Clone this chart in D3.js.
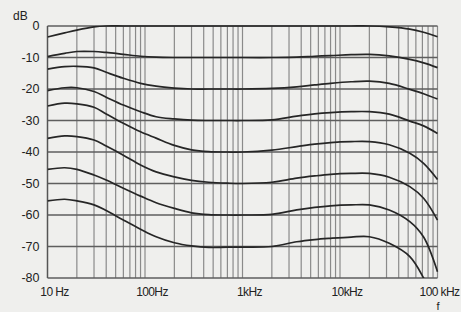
<!DOCTYPE html>
<html>
<head>
<meta charset="utf-8">
<script src="https://cdn.jsdelivr.net/npm/d3@7"></script>
<style>
  html, body { margin: 0; padding: 0; background: #efefed; }
  svg { display: block; }
  text { font-family: "Liberation Sans", Arial, sans-serif; fill: #222; }
</style>
</head>
<body>
<svg id="chart" width="461" height="312"></svg>
<script>
// ---- data ----
const freqs = [10, 15, 20, 30, 40, 60, 90, 130, 200, 300, 450, 700, 1000, 2000, 3600, 5500, 8000, 13000, 20000, 32000, 52000, 72000, 100000];
const curve0  = [-3.5, -2.2, -1.3, -0.3, 0, 0, 0, 0, 0, 0, 0, 0, 0, 0, 0, 0, 0, 0, 0, -0.3, -1.0, -2.0, -3.4];
const curve10 = [-9.7, -8.7, -8.1, -8.1, -8.4, -9.0, -9.6, -9.9, -10, -10, -10, -10, -10, -10, -9.9, -9.6, -9.4, -9.1, -9.0, -9.5, -10.6, -11.7, -13.2];
const curve20 = [-13.7, -12.9, -12.8, -13.3, -14.7, -16.6, -18.2, -19.1, -19.7, -20, -20, -20, -20, -19.8, -19.3, -18.7, -18.2, -17.7, -17.5, -18.2, -20.1, -21.5, -23.2];
const curve30 = [-20.5, -19.6, -19.6, -20.8, -22.6, -25.1, -27.2, -28.8, -29.5, -29.9, -30, -30, -30, -29.8, -28.6, -27.9, -27.5, -27.2, -27.2, -28.0, -30.2, -31.7, -34.1];
const curve40 = [-25.4, -24.5, -24.7, -25.8, -27.9, -30.9, -33.6, -35.6, -37.9, -39.3, -39.9, -40, -40, -39.4, -38.3, -37.5, -37.0, -36.7, -36.7, -37.7, -40.4, -43.6, -48.7];
const curve50 = [-35.7, -34.9, -35.1, -36.2, -38.1, -41.0, -44.1, -46.3, -47.9, -49.0, -49.6, -49.9, -50, -49.6, -48.3, -47.6, -47.1, -46.8, -46.8, -48.0, -51.0, -54.7, -61.6];
const curve60 = [-45.5, -45.0, -45.5, -47.3, -48.9, -51.5, -54.0, -56.1, -57.9, -59.3, -59.9, -60, -60, -59.8, -58.4, -57.6, -57.1, -56.8, -56.8, -58.4, -62.1, -67.0, -78.0];
const curve70 = [-55.5, -55.0, -55.5, -56.8, -58.6, -61.6, -64.5, -66.9, -68.8, -69.8, -70.3, -70.2, -70.2, -70.0, -68.5, -67.8, -67.4, -67.0, -66.9, -69.0, -73.2, -80.0, -90.0];
const seriesList = [curve0, curve10, curve20, curve30, curve40, curve50, curve60, curve70];

const yTicks = [0, -10, -20, -30, -40, -50, -60, -70, -80];
const xTickValues = [10, 100, 1000, 10000, 100000];
const xTickLabels = ["10 Hz", "100Hz", "1kHz", "10kHz", "100 kHz"];
const yUnit = "dB";
const xUnit = "f";

// ---- layout ----
const W = 461, H = 312;
const pLeft = 47.5, pRight = 437.5, pTop = 26, pBottom = 278;

const svg = d3.select("#chart");
const x = d3.scaleLog().domain([10, 100000]).range([pLeft, pRight]);
const y = d3.scaleLinear().domain([-80, 0]).range([pBottom, pTop]);

const vLines = [];
for (let dec = 10; dec < 100000; dec *= 10) {
  for (let m = 1; m < 10; m++) vLines.push(dec * m);
}
vLines.push(100000);

const grid = svg.append("g");
grid.selectAll("line.v").data(vLines).join("line")
  .attr("x1", d => x(d)).attr("x2", d => x(d))
  .attr("y1", pTop).attr("y2", pBottom)
  .attr("stroke", "#8a8a8a").attr("stroke-width", 1.2);

grid.selectAll("line.h").data(yTicks).join("line")
  .attr("x1", pLeft).attr("x2", pRight)
  .attr("y1", d => y(d)).attr("y2", d => y(d))
  .attr("stroke", "#5e5e5e").attr("stroke-width", 1.4);

grid.append("line").attr("x1", pLeft).attr("x2", pLeft).attr("y1", pTop).attr("y2", pBottom)
  .attr("stroke", "#555").attr("stroke-width", 1.4);

svg.append("clipPath").attr("id", "plotclip").append("rect")
  .attr("x", pLeft).attr("y", pTop - 3).attr("width", pRight - pLeft + 1).attr("height", pBottom - pTop + 3);

const line = d3.line()
  .x((d, i) => x(freqs[i]))
  .y(d => y(d))
  .curve(d3.curveCatmullRom.alpha(0.5));

svg.append("g").attr("clip-path", "url(#plotclip)")
  .selectAll("path").data(seriesList).join("path")
  .attr("d", d => line(d))
  .attr("fill", "none")
  .attr("stroke", "#262626")
  .attr("stroke-width", 1.7);

svg.append("g").selectAll("text").data(yTicks).join("text")
  .attr("x", 39.5).attr("y", d => y(d))
  .attr("text-anchor", "end").attr("dominant-baseline", "central")
  .attr("font-size", 12.5)
  .text(d => d === 0 ? "0" : "-" + Math.abs(d));

svg.append("text").attr("x", 13).attr("y", 20).attr("font-size", 12).text(yUnit);

const xl = svg.append("g").selectAll("text").data(xTickValues).join("text")
  .attr("x", d => x(d) + 7).attr("y", 296)
  .attr("text-anchor", "middle")
  .attr("font-size", 12)
  .attr("letter-spacing", -0.6)
  .text((d, i) => xTickLabels[i]);
xl.each(function() {
  const b = this.getBBox();
  if (b.x + b.width > W - 1) {
    d3.select(this).attr("x", +d3.select(this).attr("x") - (b.x + b.width - (W - 1)));
  }
});

svg.append("text").attr("x", x(100000) - 1).attr("y", 310).attr("font-size", 11).text(xUnit);
</script>
</body>
</html>
